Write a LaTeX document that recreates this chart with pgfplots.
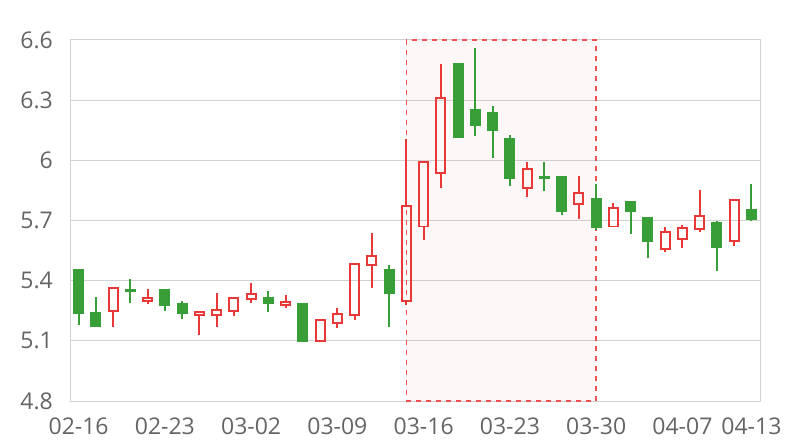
\documentclass[border=0pt]{standalone}
\usepackage{fontspec}
\setmainfont{Open Sans}
\usepackage{pgfplots}
\pgfplotsset{compat=1.18}
\definecolor{upc}{RGB}{232,56,56}
\definecolor{dnc}{RGB}{56,158,56}
\definecolor{dashc}{RGB}{240,80,80}
\definecolor{gridc}{RGB}{210,210,210}
\definecolor{lab}{RGB}{100,100,100}
% #1 position, #2 open, #3 high, #4 low, #5 close
\newcommand{\up}[5]{%
  \pgfmathsetmacro\xa{#1-0.26}\pgfmathsetmacro\xb{#1+0.26}%
  \edef\tmp{%
    \noexpand\addplot[upw] coordinates {(#1,#4) (#1,#2)};
    \noexpand\addplot[upw] coordinates {(#1,#5) (#1,#3)};
    \noexpand\addplot[upb] coordinates {(\xa,#2) (\xb,#2) (\xb,#5) (\xa,#5)} -- cycle;
  }\tmp}
\newcommand{\dn}[5]{%
  \pgfmathsetmacro\xa{#1-0.26}\pgfmathsetmacro\xb{#1+0.26}%
  \edef\tmp{%
    \noexpand\addplot[dnw] coordinates {(#1,#4) (#1,#5)};
    \noexpand\addplot[dnw] coordinates {(#1,#2) (#1,#3)};
    \noexpand\addplot[dnb] coordinates {(\xa,#2) (\xb,#2) (\xb,#5) (\xa,#5)} -- cycle;
  }\tmp}
\begin{document}
\begin{tikzpicture}
\path[use as bounding box] (0,0) rectangle (800pt,440pt);
\begin{axis}[
  at={(70pt,39pt)}, anchor=south west,
  scale only axis, width=690pt, height=361pt,
  xmin=-0.5, xmax=39.5, ymin=4.8, ymax=6.6,
  ytick={4.8,5.1,5.4,5.7,6,6.3,6.6},
  xtick={0,5,10,15,20,25,30,35,39},
  xticklabels={02-16,02-23,03-02,03-09,03-16,03-23,03-30,04-07,04-13},
  ymajorgrids, grid style={gridc, line width=1pt},
  axis line style={gridc, line width=1pt},
  major tick length=0pt,
  tick label style={font=\fontsize{23}{23}\selectfont, text=lab, inner sep=0pt},
  /pgf/number format/assume math mode=true,
  xticklabel style={yshift=-17pt},
  yticklabel style={xshift=-17pt},
  clip=false,
  upw/.style={draw=upc, line width=1.8pt, mark=none, solid},
  dnw/.style={draw=dnc, line width=1.8pt, mark=none, solid},
  upb/.style={draw=upc, fill=none, line width=1.8pt, mark=none, solid},
  dnb/.style={draw=dnc, fill=dnc, line width=1.8pt, mark=none, solid},
]
\addplot[draw=dashc, fill=upc, fill opacity=0.04, line width=1.6pt, dash pattern=on 5pt off 5pt, mark=none]
  coordinates {(19,4.8) (30,4.8) (30,6.6) (19,6.6)} -- cycle;
\dn{0}{5.455}{5.46}{5.18}{5.237}
\dn{1}{5.237}{5.32}{5.175}{5.175}
\up{2}{5.248}{5.37}{5.17}{5.363}
\dn{3}{5.355}{5.41}{5.29}{5.35}
\up{4}{5.297}{5.36}{5.283}{5.313}
\dn{5}{5.353}{5.353}{5.25}{5.278}
\dn{6}{5.283}{5.30}{5.21}{5.238}
\up{7}{5.228}{5.25}{5.13}{5.245}
\up{8}{5.228}{5.34}{5.17}{5.253}
\up{9}{5.25}{5.313}{5.222}{5.313}
\up{10}{5.308}{5.39}{5.29}{5.333}
\dn{11}{5.315}{5.35}{5.242}{5.287}
\up{12}{5.278}{5.33}{5.262}{5.295}
\dn{13}{5.285}{5.285}{5.097}{5.10}
\up{14}{5.10}{5.203}{5.092}{5.203}
\up{15}{5.188}{5.262}{5.162}{5.233}
\up{16}{5.23}{5.483}{5.202}{5.483}
\up{17}{5.478}{5.64}{5.363}{5.525}
\dn{18}{5.455}{5.48}{5.17}{5.338}
\up{19}{5.30}{6.108}{5.28}{5.771}
\up{20}{5.67}{5.992}{5.603}{5.992}
\up{21}{5.938}{6.48}{5.863}{6.312}
\dn{22}{6.483}{6.483}{6.117}{6.117}
\dn{23}{6.253}{6.558}{6.12}{6.178}
\dn{24}{6.236}{6.272}{6.013}{6.149}
\dn{25}{6.109}{6.124}{5.874}{5.909}
\up{26}{5.862}{5.993}{5.815}{5.957}
\dn{27}{5.917}{5.993}{5.845}{5.913}
\dn{28}{5.918}{5.918}{5.725}{5.749}
\up{29}{5.784}{5.923}{5.708}{5.837}
\dn{30}{5.806}{5.881}{5.654}{5.667}
\up{31}{5.67}{5.789}{5.67}{5.764}
\dn{32}{5.795}{5.795}{5.633}{5.747}
\dn{33}{5.713}{5.713}{5.512}{5.597}
\up{34}{5.558}{5.67}{5.542}{5.643}
\up{35}{5.608}{5.68}{5.562}{5.663}
\up{36}{5.658}{5.85}{5.642}{5.723}
\dn{37}{5.687}{5.70}{5.45}{5.567}
\up{38}{5.597}{5.803}{5.572}{5.803}
\dn{39}{5.753}{5.88}{5.70}{5.708}
\end{axis}
\end{tikzpicture}
\end{document}
